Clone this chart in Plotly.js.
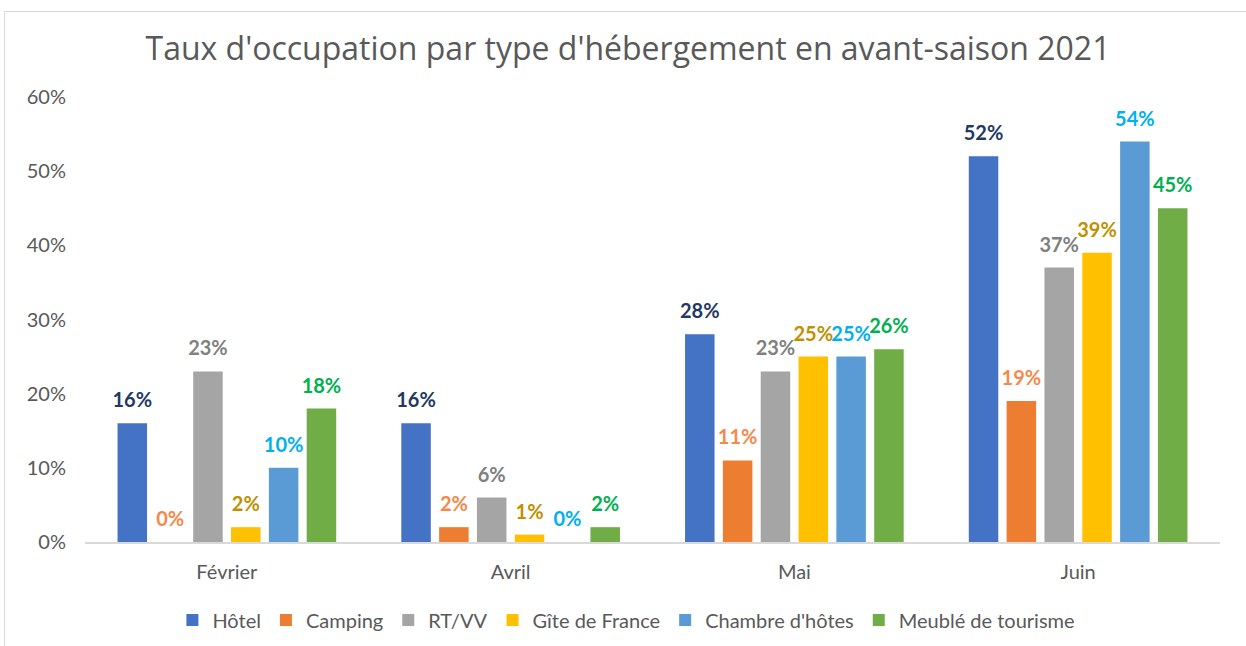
<!DOCTYPE html>
<html>
<head>
<meta charset="utf-8">
<script src="https://cdn.plot.ly/plotly-3.0.1.min.js"></script>
<style>
  html, body { margin: 0; padding: 0; background: #ffffff; overflow: hidden; }
  #chart { position: absolute; left: 0; top: 0; width: 1246px; height: 646px; }
  #frame { position: absolute; left: 4px; top: 11px; width: 1300px; height: 700px;
           border: 1.5px solid #d9d9d9; pointer-events: none; }
</style>
</head>
<body>
<div id="chart"></div>
<div id="frame"></div>
<script>
const months = ["Février", "Avril", "Mai", "Juin"];
const seriesNames = ["Hôtel", "Camping", "RT/VV", "Gîte de France", "Chambre d'hôtes", "Meublé de tourisme"];
const hotel    = [0.16, 0.16, 0.28, 0.52];
const camping  = [0.00, 0.02, 0.11, 0.19];
const rtvv     = [0.23, 0.06, 0.23, 0.37];
const gite     = [0.02, 0.01, 0.25, 0.39];
const chambre  = [0.10, 0.00, 0.25, 0.54];
const meuble   = [0.18, 0.02, 0.26, 0.45];
const yTicks   = [0, 0.1, 0.2, 0.3, 0.4, 0.5, 0.6];

const values = [hotel, camping, rtvv, gite, chambre, meuble];
const barColors = ["#4472c4", "#ed7d31", "#a5a5a5", "#ffc000", "#5b9bd5", "#70ad47"];
const labelColors = ["#1f3864", "#f4894b", "#808080", "#bf9000", "#00b0f0", "#00b050"];

const FONT = "Lato, 'Open Sans', sans-serif";

const barTraces = values.map((v, i) => ({
  type: "bar",
  name: seriesNames[i],
  x: months,
  y: v,
  offsetgroup: "g" + i,
  marker: { color: barColors[i], line: { width: 0 } },
  hoverinfo: "none"
}));

const labelTraces = values.map((v, i) => ({
  type: "scatter",
  mode: "markers+text",
  x: months,
  y: v,
  offsetgroup: "g" + i,
  showlegend: false,
  cliponaxis: false,
  marker: { size: 16, opacity: 0 },
  text: v.map(d => Math.round(d * 100) + "%"),
  textposition: "top center",
  textfont: { family: FONT, size: 20, color: labelColors[i], weight: 700 },
  hoverinfo: "none"
}));

const layout = {
  width: 1246,
  height: 646,
  margin: { l: 85, r: 26, t: 97, b: 104, autoexpand: false },
  paper_bgcolor: "rgba(0,0,0,0)",
  plot_bgcolor: "rgba(0,0,0,0)",
  barmode: "group",
  bargap: 0.2,
  bargroupgap: 0.22,
  scattermode: "group",
  scattergap: 0.2,
  showlegend: true,
  title: {
    text: "Taux d'occupation par type d'hébergement en avant-saison 2021",
    font: { family: "'Open Sans', sans-serif", size: 32, color: "#595959" },
    x: 0.504, xanchor: "center", xref: "container",
    y: 0.925, yanchor: "middle", yref: "container"
  },
  xaxis: {
    type: "category",
    showline: true,
    linecolor: "#d9d9d9",
    linewidth: 2,
    showgrid: false,
    ticks: "",
    ticklabelstandoff: 11,
    tickfont: { family: FONT, size: 20, color: "#595959" }
  },
  yaxis: {
    range: [0, 0.6],
    tickvals: yTicks,
    tickformat: ".0%",
    showgrid: false,
    zeroline: false,
    showline: false,
    ticks: "",
    ticklabelstandoff: 18,
    tickfont: { family: FONT, size: 20, color: "#595959" }
  },
  legend: {
    orientation: "h",
    x: 0.477, xanchor: "center",
    y: -0.175, yanchor: "middle",
    font: { family: FONT, size: 20, color: "#595959" },
    itemwidth: 30,
    traceorder: "normal"
  }
};

Plotly.newPlot("chart", barTraces.concat(labelTraces), layout, { displayModeBar: false, staticPlot: true });
</script>
</body>
</html>
